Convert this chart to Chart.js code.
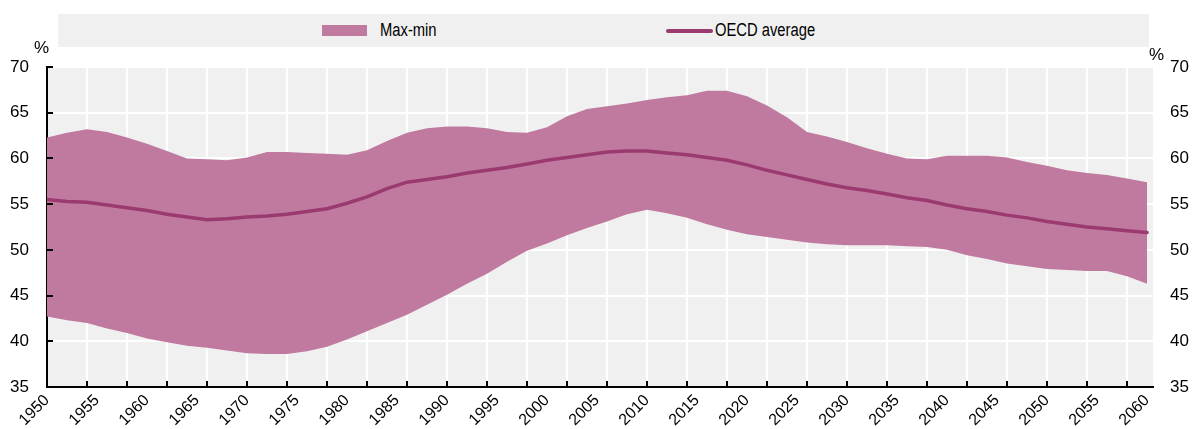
<!DOCTYPE html>
<html>
<head>
<meta charset="utf-8">
<script src="https://cdn.jsdelivr.net/npm/chart.js@4.4.1/dist/chart.umd.min.js"></script>
<style>
    body { margin: 0; background: #fff; }
    #wrap { position: relative; width: 1192px; height: 429px; font-family: 'Liberation Sans', Arial, sans-serif; }
    #legend { position: absolute; left: 58px; top: 14px; width: 1091px; height: 33px; background: #f0f0f0; font-size: 18px; color: #000; }
    .item { position: absolute; top: 0; height: 33px; line-height: 33px; white-space: nowrap; transform: scaleX(0.82); transform-origin: left center; }
    .swatch { position: absolute; }
    canvas { position: absolute; left: 0; top: 0; }
</style>
</head>
<body>
<div id="wrap">
    <canvas id="chart" width="1192" height="429"></canvas>
    <div id="legend">
        <span class="swatch" style="left:264px; top:11px; width:45px; height:11px; background:#c07a9f;"></span>
        <span class="item" style="left:322px;">Max-min</span>
        <span class="swatch" style="left:608px; top:15px; width:47px; height:4px; border-radius:2px; background:#9b3a70;"></span>
        <span class="item" style="left:657px;">OECD average</span>
    </div>
</div>
<script>
// Years (every second year)
const years = [1950, 1952, 1954, 1956, 1958, 1960, 1962, 1964, 1966, 1968,
               1970, 1972, 1974, 1976, 1978, 1980, 1982, 1984, 1986, 1988,
               1990, 1992, 1994, 1996, 1998, 2000, 2002, 2004, 2006, 2008,
               2010, 2012, 2014, 2016, 2018, 2020, 2022, 2024, 2026, 2028,
               2030, 2032, 2034, 2036, 2038, 2040, 2042, 2044, 2046, 2048,
               2050, 2052, 2054, 2056, 2058, 2060];

// Upper edge of the band (max)
const maxValues = [62.3, 62.8, 63.2, 62.9, 62.3, 61.6, 60.8, 60.0, 59.9, 59.8,
                   60.1, 60.7, 60.7, 60.6, 60.5, 60.4, 60.9, 61.9, 62.8, 63.3,
                   63.5, 63.5, 63.3, 62.9, 62.8, 63.4, 64.6, 65.4, 65.7, 66.0,
                   66.4, 66.7, 66.9, 67.4, 67.4, 66.8, 65.8, 64.5, 62.9, 62.4,
                   61.8, 61.1, 60.5, 60.0, 59.9, 60.3, 60.3, 60.3, 60.1, 59.6,
                   59.2, 58.7, 58.4, 58.2, 57.8, 57.4];

// Lower edge of the band (min)
const minValues = [42.7, 42.3, 42.0, 41.4, 40.9, 40.3, 39.9, 39.5, 39.3, 39.0,
                   38.7, 38.6, 38.6, 38.9, 39.4, 40.2, 41.1, 42.0, 42.9, 44.0,
                   45.1, 46.3, 47.4, 48.7, 49.9, 50.7, 51.6, 52.4, 53.1, 53.9,
                   54.4, 54.0, 53.5, 52.8, 52.2, 51.7, 51.4, 51.1, 50.8, 50.6,
                   50.5, 50.5, 50.5, 50.4, 50.3, 50.0, 49.4, 49.0, 48.5, 48.2,
                   47.9, 47.8, 47.7, 47.7, 47.1, 46.3];

// OECD average
const avgValues = [55.5, 55.3, 55.2, 54.9, 54.6, 54.3, 53.9, 53.6, 53.3, 53.4,
                   53.6, 53.7, 53.9, 54.2, 54.5, 55.1, 55.8, 56.7, 57.4, 57.7,
                   58.0, 58.4, 58.7, 59.0, 59.4, 59.8, 60.1, 60.4, 60.7, 60.8,
                   60.8, 60.6, 60.4, 60.1, 59.8, 59.3, 58.7, 58.2, 57.7, 57.2,
                   56.8, 56.5, 56.1, 55.7, 55.4, 54.9, 54.5, 54.2, 53.8, 53.5,
                   53.1, 52.8, 52.5, 52.3, 52.1, 51.9];

const yTicks = [35, 40, 45, 50, 55, 60, 65, 70];

const FONT = "'Liberation Sans', Arial, sans-serif";
const bandColor = '#c07a9f';
const lineColor = '#9b3a70';

function toPoints(vals) {
    return years.map((yr, i) => ({ x: yr, y: vals[i] }));
}

// Grey plot background, inward tick marks and the % labels
const decorPlugin = {
    id: 'decor',
    beforeDraw(chart) {
        const { ctx, chartArea } = chart;
        ctx.save();
        ctx.fillStyle = '#f0f0f0';
        ctx.fillRect(chartArea.left, chartArea.top, chartArea.right - chartArea.left, chartArea.bottom - chartArea.top);
        ctx.restore();
    },
    afterDraw(chart) {
        const { ctx, chartArea } = chart;
        const xs = chart.scales.x;
        const ys = chart.scales.y;
        ctx.save();
        ctx.strokeStyle = '#000';
        ctx.lineWidth = 2;
        ctx.beginPath();
        yTicks.forEach(v => {
            const py = Math.round(ys.getPixelForValue(v));
            ctx.moveTo(chartArea.left, py);
            ctx.lineTo(chartArea.left + 6, py);
        });
        for (let yr = 1950; yr <= 2060; yr += 4) {
            const px = Math.round(xs.getPixelForValue(yr));
            ctx.moveTo(px, chartArea.bottom);
            ctx.lineTo(px, chartArea.bottom - 6);
        }
        ctx.stroke();
        ctx.fillStyle = '#000';
        ctx.font = '17px ' + FONT;
        ctx.textBaseline = 'alphabetic';
        ctx.fillText('%', 34, 53);
        ctx.fillText('%', 1149, 60);
        ctx.restore();
    }
};

const chart = new Chart(document.getElementById('chart').getContext('2d'), {
    type: 'line',
    data: {
        datasets: [
            {
                label: 'Max',
                data: toPoints(maxValues),
                borderWidth: 0,
                pointRadius: 0,
                fill: false,
                order: 2
            },
            {
                label: 'Max-min',
                data: toPoints(minValues),
                borderWidth: 0,
                pointRadius: 0,
                backgroundColor: bandColor,
                fill: '-1',
                order: 2
            },
            {
                label: 'OECD average',
                data: toPoints(avgValues),
                borderColor: lineColor,
                borderWidth: 3.5,
                borderCapStyle: 'round',
                pointRadius: 0,
                fill: false,
                order: 1
            }
        ]
    },
    options: {
        responsive: false,
        animation: false,
        devicePixelRatio: 1,
        layout: { padding: { top: 67, left: 0, right: 0, bottom: 0 } },
        plugins: {
            legend: { display: false },
            tooltip: { enabled: false }
        },
        scales: {
            x: {
                type: 'linear',
                min: 1950,
                max: 2060.6,
                afterBuildTicks(scale) {
                    const vals = new Set();
                    for (let yr = 1950; yr <= 2060; yr += 4) vals.add(yr);
                    for (let yr = 1950; yr <= 2060; yr += 5) vals.add(yr);
                    scale.ticks = [...vals].sort((a, b) => a - b).map(v => ({ value: v }));
                },
                afterFit(scale) { scale.height = 42; },
                grid: {
                    color: c => (c.tick && (c.tick.value - 1950) % 4 === 0) ? '#ffffff' : 'rgba(0,0,0,0)',
                    lineWidth: 2,
                    drawTicks: false
                },
                border: { display: true, color: '#000', width: 2 },
                ticks: {
                    autoSkip: false,
                    minRotation: 45,
                    maxRotation: 45,
                    padding: 4,
                    color: '#000',
                    font: { family: FONT, size: 16 },
                    callback: v => (v % 5 === 0 ? String(v) : '')
                }
            },
            y: {
                position: 'left',
                min: 35,
                max: 70,
                afterFit(scale) { scale.width = 47; },
                grid: { color: '#ffffff', lineWidth: 2, drawTicks: false },
                border: { display: true, color: '#000', width: 2 },
                ticks: {
                    stepSize: 5,
                    padding: 18,
                    color: '#000',
                    font: { family: FONT, size: 17 }
                }
            },
            y2: {
                position: 'right',
                min: 35,
                max: 70,
                afterFit(scale) { scale.width = 39; },
                grid: { display: false, drawTicks: false },
                border: { display: false },
                ticks: {
                    stepSize: 5,
                    padding: 17,
                    color: '#000',
                    font: { family: FONT, size: 17 }
                }
            }
        }
    },
    plugins: [decorPlugin]
});
</script>
</body>
</html>
